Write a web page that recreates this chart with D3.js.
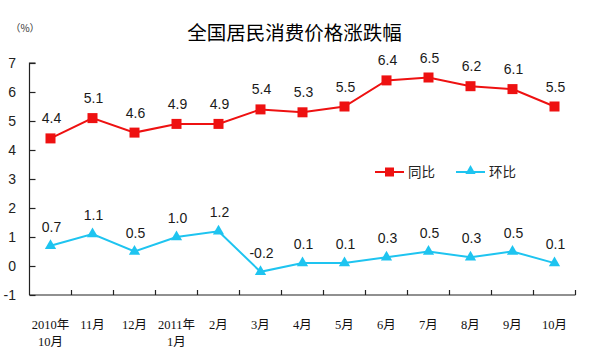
<!DOCTYPE html>
<html><head><meta charset="utf-8">
<script src="https://cdn.jsdelivr.net/npm/d3@7"></script>
<style>
html,body{margin:0;padding:0;background:#fff;}
svg{display:block;}
</style></head>
<body>
<svg id="chart" width="589" height="350"></svg>
<script>
const categories = ["2010年\n10月","11月","12月","2011年\n1月","2月","3月","4月","5月","6月","7月","8月","9月","10月"];
const yoy = [4.4,5.1,4.6,4.9,4.9,5.4,5.3,5.5,6.4,6.5,6.2,6.1,5.5];
const mom = [0.7,1.1,0.5,1.0,1.2,-0.2,0.1,0.1,0.3,0.5,0.3,0.5,0.1];
const yTicks = [-1,0,1,2,3,4,5,6,7];
const seriesNames = ["同比","环比"];
const title = "全国居民消费价格涨跌幅";
const unit = "（%）";

(function(){
const RED = "#ee1111", BLUE = "#1ec4f0";
const svg = d3.select("#chart");
const pLeft = 29.5, pRight = 575.5, pTop = 63, pBottom = 295;

const x = d3.scaleBand().domain(categories).range([pLeft, pRight]).padding(0);
const y = d3.scaleLinear().domain([-1, 7]).range([pBottom, pTop]);
const cx = c => x(c) + x.bandwidth() / 2;

// title
svg.append("text").attr("x", 294.5).attr("y", 40).attr("text-anchor", "middle")
  .attr("font-family", "'Noto Sans CJK SC'").attr("font-size", 19.5).attr("fill", "#000").text(title);
svg.append("text").attr("x", 25).attr("y", 32).attr("text-anchor", "middle")
  .attr("font-family", "'Noto Sans CJK SC'").attr("font-size", 10).attr("fill", "#333").text(unit);

// y axis
const yAxis = d3.axisRight(y).tickValues(yTicks).tickSize(6).tickFormat("");
const gy = svg.append("g").attr("transform", `translate(${pLeft},0)`).call(yAxis);
gy.select(".domain").attr("stroke", "#222").attr("stroke-width", 1.2).attr("d", `M6,${pTop}H0V${pBottom}`);
gy.selectAll(".tick line").attr("stroke", "#222").attr("stroke-width", 1.2);
svg.append("g").selectAll("text").data(yTicks).join("text")
  .attr("x", 16).attr("y", d => y(d) + 5).attr("text-anchor", "end")
  .attr("font-family", "Arial, 'Liberation Sans'").attr("font-size", 14).attr("fill", "#222")
  .text(d => d);

// x axis
const bounds = categories.map(c => x(c)).concat([pRight]);
svg.append("line").attr("x1", pLeft).attr("x2", pRight).attr("y1", pBottom).attr("y2", pBottom)
  .attr("stroke", "#222").attr("stroke-width", 1.2);
svg.append("g").selectAll("line").data(bounds.slice(1)).join("line")
  .attr("x1", d => d).attr("x2", d => d).attr("y1", pBottom).attr("y2", pBottom - 5)
  .attr("stroke", "#222").attr("stroke-width", 1.2);
const xl = svg.append("g").selectAll("text").data(categories).join("text")
  .attr("text-anchor", "middle").attr("font-family", "'Liberation Serif', 'Noto Sans CJK SC'")
  .attr("font-size", 12.5).attr("fill", "#111");
xl.each(function(d) {
  const lines = d.split("\n");
  d3.select(this).selectAll("tspan").data(lines).join("tspan")
    .attr("x", cx(d)).attr("y", (l, i) => 329 + i * 17).text(l => l);
});

// lines
const line = d3.line().x((d, i) => cx(categories[i])).y(d => y(d));
svg.append("path").datum(yoy).attr("d", line).attr("fill", "none").attr("stroke", RED).attr("stroke-width", 2);
svg.append("path").datum(mom).attr("d", line).attr("fill", "none").attr("stroke", BLUE).attr("stroke-width", 2);

// markers
svg.append("g").selectAll("rect").data(yoy).join("rect")
  .attr("x", (d, i) => cx(categories[i]) - 5).attr("y", d => y(d) - 5)
  .attr("width", 10).attr("height", 10).attr("fill", RED);
const tri = d3.symbol().type(d3.symbolTriangle).size(55);
svg.append("g").selectAll("path").data(mom).join("path")
  .attr("d", tri).attr("transform", (d, i) => `translate(${cx(categories[i])},${y(d)})`).attr("fill", BLUE);

// data labels
const lbl = (data, off) => svg.append("g").selectAll("text").data(data).join("text")
  .attr("x", (d, i) => cx(categories[i]) + 1).attr("y", d => y(d) - off).attr("text-anchor", "middle")
  .attr("font-family", "Arial, 'Liberation Sans'").attr("font-size", 14).attr("fill", "#1a1a1a")
  .text(d => d.toFixed(1));
lbl(yoy, 15);
lbl(mom, 14);

// legend
const leg = [{name: seriesNames[0], color: RED, x0: 375, sym: "sq"}, {name: seriesNames[1], color: BLUE, x0: 456, sym: "tri"}];
const lg = svg.append("g").selectAll("g").data(leg).join("g");
lg.append("line").attr("x1", d => d.x0).attr("x2", d => d.x0 + 29).attr("y1", 172).attr("y2", 172)
  .attr("stroke", d => d.color).attr("stroke-width", 2);
lg.each(function(d) {
  const g = d3.select(this);
  if (d.sym === "sq") g.append("rect").attr("x", d.x0 + 14.5 - 4.5).attr("y", 167.5).attr("width", 9).attr("height", 9).attr("fill", d.color);
  else g.append("path").attr("d", d3.symbol().type(d3.symbolTriangle).size(45)).attr("transform", `translate(${d.x0 + 14.5},171)`).attr("fill", d.color);
});
lg.append("text").attr("x", d => d.x0 + 33).attr("y", 177).attr("font-family", "'Noto Sans CJK SC'")
  .attr("font-size", 13.5).attr("fill", "#222").text(d => d.name);
})();
</script>
</body></html>
